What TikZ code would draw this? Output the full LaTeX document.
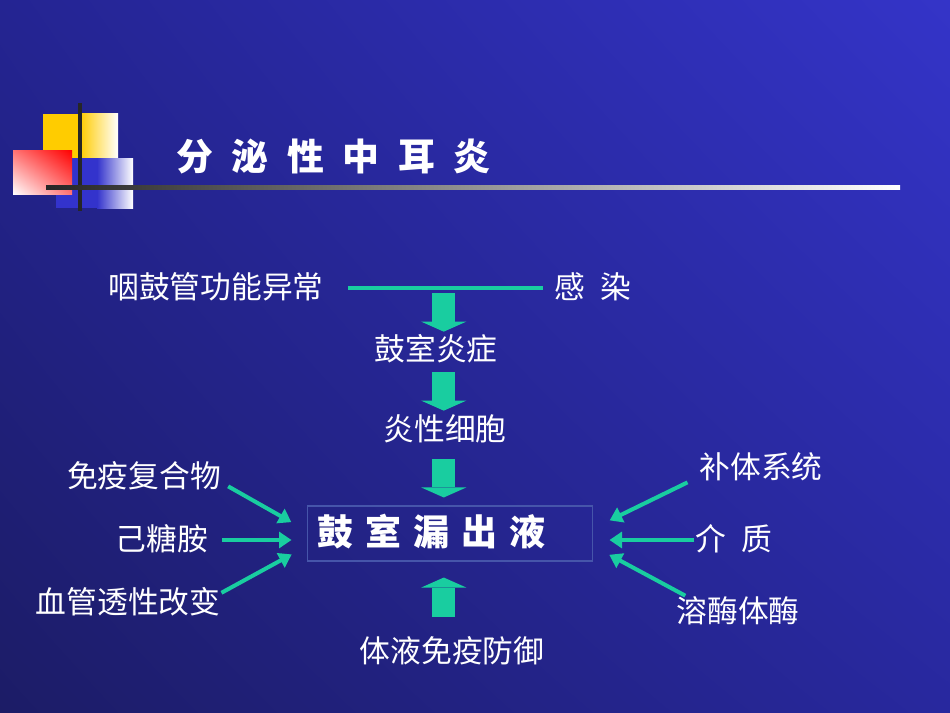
\documentclass[tikz,border=0pt]{standalone}
\usepackage{fontspec}
\newfontfamily\cjk[WordSpace=1.7]{Noto Sans CJK SC}
\newfontfamily\cjktitel[WordSpace=2.2]{Noto Sans CJK SC}
\usetikzlibrary{arrows.meta, shadings}
\definecolor{tuerkis}{RGB}{25,205,160}
\definecolor{goldgelb}{RGB}{255,204,0}
\definecolor{deckblau}{RGB}{51,51,204}
\definecolor{rahmen}{RGB}{70,85,170}
\definecolor{hgol}{RGB}{36,36,146}
\definecolor{hgor}{RGB}{52,52,200}
\definecolor{hgul}{RGB}{28,28,102}
\definecolor{hgur}{RGB}{40,40,158}
\begin{document}
\begin{tikzpicture}[x=0.02cm, y=-0.02cm,
			txt/.style={text=white, inner sep=0pt, text height=0.52cm, text depth=0.1cm,
				font=\cjk\fontsize{17.5}{20}\selectfont},
			pfeil/.style={draw=tuerkis, line width=0.08cm, -{Triangle[length=0.25cm, width=0.32cm]}},
			dick/.style={draw=tuerkis, line width=0.46cm, -{Triangle[length=0.2cm, width=0.9cm, line width=0pt]}}]
			%Hintergrund
			\shade[upper left=hgol, upper right=hgor, lower left=hgul, lower right=hgur]
				(0,0) rectangle (950,713);
			%Deko oben links
			\fill[goldgelb] (43,114) rectangle (80,189);
			\shade[left color=goldgelb, right color=white] (80,114) rectangle (118,189);
			\fill[deckblau] (56,158) rectangle (97,208);
			\shade[left color=deckblau, right color=white] (97,158) rectangle (133,208);
			\shade[upper right=red, upper left=red!55!white, lower left=white, lower right=red!55!white]
				(13,150) rectangle (72,194);
			\draw[line width=0.08cm, color=black!85] (80,103) -- (80,211);
			\shade[left color=black!85, right color=white] (46,185) rectangle (900,189);
			%Titel
			\node[anchor=west, text=white, inner sep=0pt, font=\cjktitel\bfseries\fontsize{21}{24}\selectfont]
				(titel) at (176,157) {分 泌 性 中 耳 炎};
			%Begriffe
			\node[txt] (tube) at (216,288) {咽鼓管功能异常};
			\node[txt] (infekt) at (593,288) {感 染};
			\node[txt] (entz) at (436,350) {鼓室炎症};
			\node[txt] (zellen) at (445,430) {炎性细胞};
			\node[draw=rahmen, line width=0.6pt, text=white, text width=5.3cm, align=left,
				inner xsep=0.2cm, inner ysep=0pt, minimum height=1.1cm, text height=0.6cm, text depth=0.12cm,
				font=\cjk\bfseries\fontsize{20.5}{24}\selectfont] (erguss) at (450,533.5) {鼓 室 漏 出 液};
			\node[txt] (abwehr) at (452,652) {体液免疫防御};
			\node[txt] (komplex) at (144,477) {免疫复合物};
			\node[txt] (hexose) at (162,540) {己糖胺};
			\node[txt] (gefaess) at (128,603) {血管透性改变};
			\node[txt] (kompl) at (761,468) {补体系统};
			\node[txt] (medi) at (734,540) {介 质};
			\node[txt] (lyso) at (738,612) {溶酶体酶};
			%Verbindungen
			\draw[draw=tuerkis, line width=0.08cm, shorten <=0.49cm, shorten >=0.22cm] (tube.east) -- (infekt.west)
				coordinate[pos=0.52] (mitte);
			\draw[dick, shorten <=0.1cm, shorten >=0.05cm] (mitte) -- (mitte |- entz.north);
			\draw[dick, shorten <=0.13cm, shorten >=0.07cm] (mitte |- entz.south) -- (mitte |- zellen.north);
			\draw[dick, shorten <=0.27cm, shorten >=0.16cm] (mitte |- zellen.south) -- (mitte |- erguss.north);
			\draw[dick, shorten <=0.39cm, shorten >=0.32cm] (mitte |- abwehr.north) -- (mitte |- erguss.south);
			%links
			\draw[pfeil, shorten <=0.16cm, shorten >=0.36cm] (komplex.-4) -- (erguss.179);
			\draw[pfeil, shorten <=0.28cm, shorten >=0.31cm] (hexose.east) -- (hexose.east -| erguss.west);
			\draw[pfeil, shorten <=0.02cm, shorten >=0.35cm] (gefaess.6) -- (erguss.185);
			%rechts
			\draw[pfeil, shorten <=0.26cm, shorten >=0.37cm] (kompl.188) -- (erguss.2);
			\draw[pfeil, shorten <=0.02cm, shorten >=0.33cm] (medi.west) -- (medi.west -| erguss.east);
			\draw[pfeil, shorten <=0.02cm, shorten >=0.37cm] (lyso.163) -- (erguss.355);
		\end{tikzpicture}
\end{document}
